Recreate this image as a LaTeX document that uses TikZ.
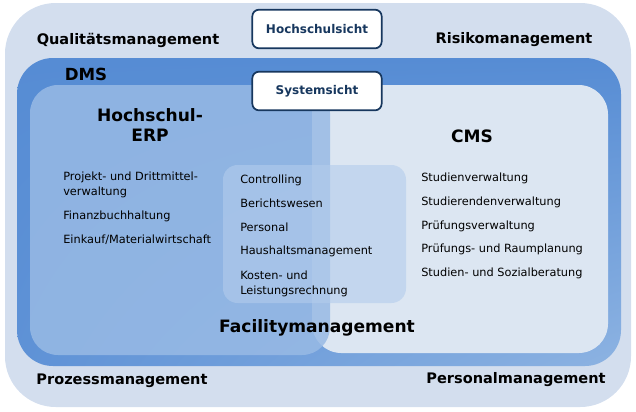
\documentclass[tikz,border=0pt]{standalone}
\usepackage{fontspec}
\setmainfont{DejaVu Sans}
\usepackage{tikz}
\usetikzlibrary{
  calc,%
  shadings,%
  positioning
}
\definecolor{outerbg}{HTML}{D3DEEE}
\definecolor{dmsblue}{HTML}{568CD4}
\definecolor{dmslight}{HTML}{8DB3E2}
\definecolor{cmsbg}{HTML}{DCE6F2}
\definecolor{erpbg}{HTML}{98BAE5}
\definecolor{sharedbg}{HTML}{B3CCEC}
\definecolor{navy}{HTML}{17375E}
\tikzset{headlbl/.style={font=\bfseries\fontsize{10.9}{13}\selectfont, inner sep=0pt}}
\tikzset{bighead/.style={font=\bfseries\fontsize{12.8}{15}\selectfont, inner sep=0pt, align=center}}
\tikzset{itemlbl/.style={font=\fontsize{8.5}{11.2}\selectfont, anchor=base west, inner sep=0pt, align=left}}
\tikzset{viewbox/.style={draw=navy, line width=1.3pt, fill=white, rounded corners=5pt,
  minimum width=97pt, minimum height=29pt, inner sep=0pt,
  font=\bfseries\fontsize{9}{10}\selectfont, text=navy}}

\begin{document}
\begin{tikzpicture}[x=0.75pt, y=-0.75pt]
  \useasboundingbox (0,0) rectangle (636,411);
  % layers
  \fill[outerbg, rounded corners=38pt] (5,3) rectangle (631,407);
  \shade[rounded corners=27pt, upper left=dmsblue, upper right=dmsblue,
    lower left=dmsblue!85!dmslight, lower right=dmslight] (17,58) rectangle (621,366);
  \fill[cmsbg, rounded corners=22pt] (312,85) rectangle (608,353);
  \fill[erpbg, fill opacity=0.85, rounded corners=21pt] (30,85) rectangle (330,355);
  \fill[sharedbg, fill opacity=0.6, rounded corners=11pt] (223,165) rectangle (406,303);

  % views
  \node[viewbox] (hsview) at (317,29) {Hochschulsicht};
  \node[viewbox] (sysview) at (317,91) {Systemsicht};

  % outer labels
  \node[headlbl] (qm) at (128,40) {Qualitätsmanagement};
  \node[headlbl] (rm) at (514,40) {Risikomanagement};
  \node[headlbl] (pm) at (122,381) {Prozessmanagement};
  \node[headlbl] (persm) at (516,380) {Personalmanagement};
  \node[headlbl, font=\bfseries\fontsize{12.5}{14}\selectfont] (dms) at (86,74) {DMS};

  % systems
  \node[bighead] (erp) at (150,125) {Hochschul-\\ERP};
  \node[bighead] (cms) at (472,136) {CMS};
  \node[bighead] (fm) at (317,328) {Facilitymanagement};

  % items
  \node[itemlbl] (erp1) at (63,195) {Projekt- und Drittmittel-\\verwaltung};
  \node[itemlbl] (erp2) at (63,219) {Finanzbuchhaltung};
  \node[itemlbl] (erp3) at (63,243) {Einkauf/Materialwirtschaft};

  \node[itemlbl] (sh1) at (240,183) {Controlling};
  \node[itemlbl] (sh2) at (240,207) {Berichtswesen};
  \node[itemlbl] (sh3) at (240,231) {Personal};
  \node[itemlbl] (sh4) at (240,254) {Haushaltsmanagement};
  \node[itemlbl] (sh5) at (240,294) {Kosten- und\\Leistungsrechnung};

  \node[itemlbl] (cms1) at (421,181) {Studienverwaltung};
  \node[itemlbl] (cms2) at (421,205) {Studierendenverwaltung};
  \node[itemlbl] (cms3) at (421,229) {Prüfungsverwaltung};
  \node[itemlbl] (cms4) at (421,252) {Prüfungs- und Raumplanung};
  \node[itemlbl] (cms5) at (421,276) {Studien- und Sozialberatung};
\end{tikzpicture}
\end{document}
